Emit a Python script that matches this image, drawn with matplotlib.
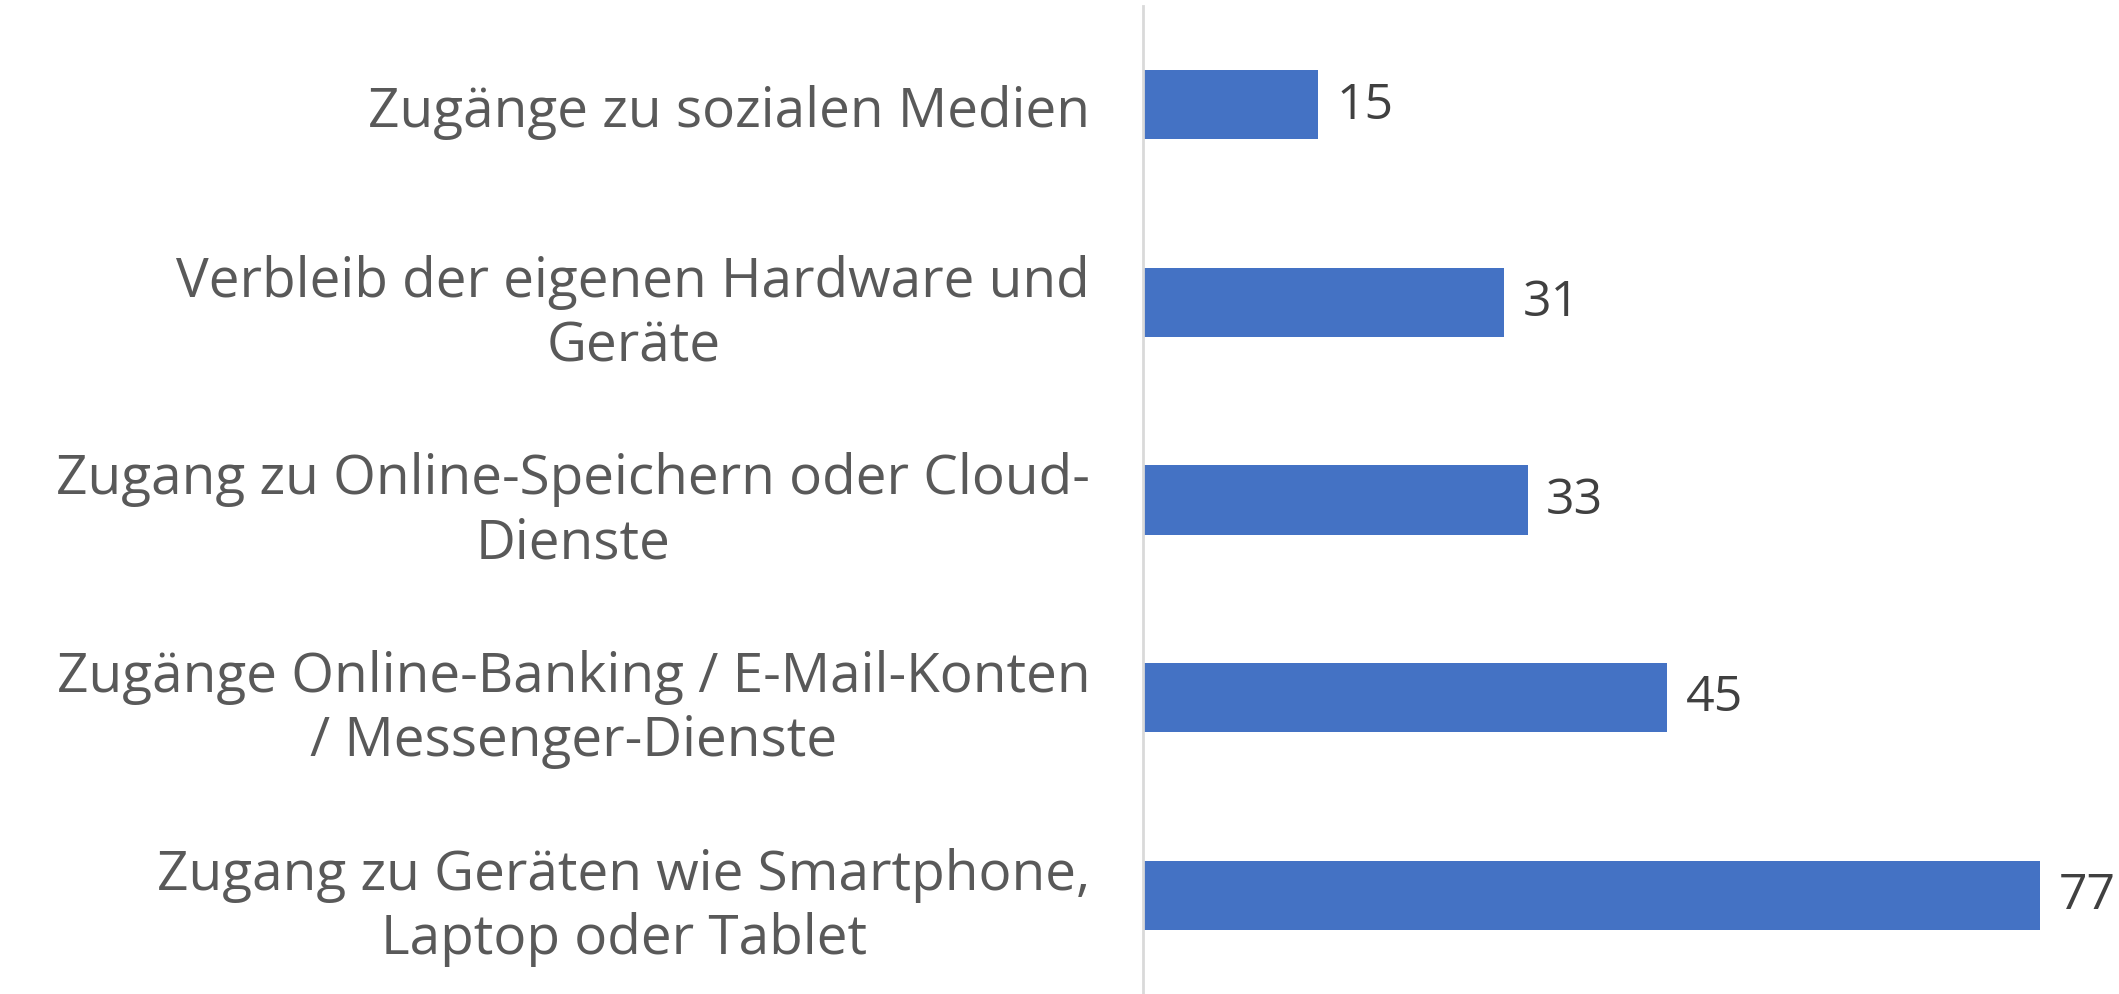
import matplotlib
matplotlib.use("Agg")
import matplotlib.pyplot as plt

# ─── Data ────────────────────────────────────────────────────────────────────
categories = [
    "Zugänge zu sozialen Medien",
    "Verbleib der eigenen Hardware und\nGeräte",
    "Zugang zu Online-Speichern oder Cloud-\nDienste",
    "Zugänge Online-Banking / E-Mail-Konten\n/ Messenger-Dienste",
    "Zugang zu Geräten wie Smartphone,\nLaptop oder Tablet",
]
values = [15, 31, 33, 45, 77]

BAR_COLOR = "#4472C4"
LABEL_COLOR = "#595959"
VALUE_COLOR = "#404040"

plt.rcParams["font.family"] = ["Open Sans", "DejaVu Sans"]

fig = plt.figure(figsize=(21.19, 9.95), dpi=100)
ax = fig.add_axes([0.5394, 0.0, 0.44, 0.993])

ypos = list(range(len(categories)))
bars = ax.barh(ypos, values, height=0.35, color=BAR_COLOR)

ax.set_ylim(len(categories) - 0.5, -0.5)
ax.set_xlim(0, 80)

ax.set_yticks(ypos)
ax.set_yticklabels(categories, fontsize=39.5, color=LABEL_COLOR,
                   multialignment="center", linespacing=1.22)
ax.tick_params(axis="y", length=0, pad=38)
ax.set_xticks([])

for s in ["top", "right", "bottom"]:
    ax.spines[s].set_visible(False)
ax.spines["left"].set_color("#D9D9D9")
ax.spines["left"].set_linewidth(2)

for y, v in zip(ypos, values):
    ax.text(v + 1.6, y, str(v), va="center", ha="left", fontsize=36,
            color=VALUE_COLOR, clip_on=False)

fig.savefig("out.png", dpi=100)
